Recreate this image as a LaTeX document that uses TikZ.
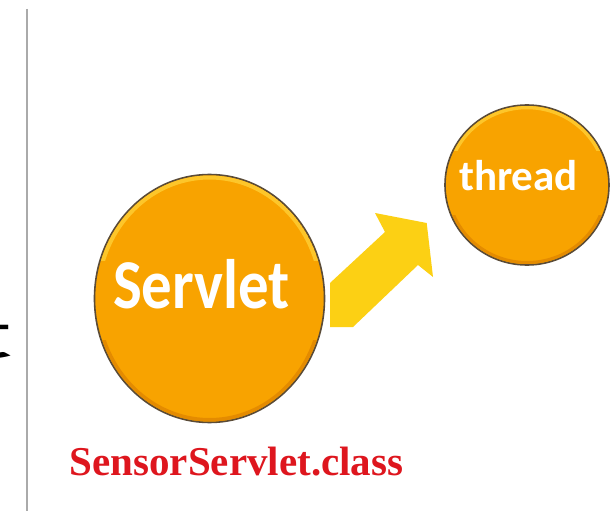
\documentclass[tikz,border=0pt]{standalone}
\usepackage{fontspec}
\setmainfont{Liberation Serif}
\newfontfamily\calib{Carlito}
\usetikzlibrary{shapes.geometric}
\definecolor{orng}{RGB}{248,163,0}
\definecolor{orngrim}{RGB}{90,75,55}
\definecolor{ornghi}{RGB}{255,205,50}
\definecolor{orngdk}{RGB}{220,130,0}
\definecolor{arrowyel}{RGB}{252,208,20}
\definecolor{redtxt}{RGB}{222,22,30}
\definecolor{rulegray}{RGB}{170,170,170}
\tikzset{
  ball/.style={ellipse, inner sep=0pt, fill=orng, draw=orngrim, line width=1.6pt},
  balltext/.style={text=white, inner sep=0pt, anchor=base},
  blockarrow/.style={fill=arrowyel},
}
\begin{document}
\begin{tikzpicture}[x=1pt,y=-1pt]
\useasboundingbox (0,0) rectangle (616,511);
\clip (0,0) rectangle (616,511);
\fill[white] (0,0) rectangle (616,511);
% left rule and cut-off letter
\coordinate (ruletop) at (27,9);
\coordinate (rulebot) at (27,511);
\draw[rulegray, line width=1.4pt] (ruletop) -- (rulebot);
\node[anchor=base west, inner sep=0pt, font=\calib\fontsize{71}{80}\selectfont] (frag) at (-57,358) {\scalebox{3}[1]{t}};
% Servlet ball
\node[ball, minimum width=230pt, minimum height=248pt] (servlet) at (209.5,298.5) {};
\begin{scope}
  \clip (servlet.center) ellipse [x radius=114pt, y radius=123pt];
  \begin{scope}
    \clip (0,160) rectangle (400,260);
    \draw[ornghi, line width=4pt, opacity=0.85] (servlet.center) ellipse [x radius=112pt, y radius=121pt];
  \end{scope}
  \begin{scope}
    \clip (0,340) rectangle (400,430);
    \draw[orngdk, line width=5pt, opacity=0.7] (servlet.center) ellipse [x radius=113pt, y radius=122pt];
  \end{scope}
\end{scope}
\node[balltext, font=\calib\bfseries\fontsize{70}{80}\selectfont] (servletlabel) at (201.5,308) {\scalebox{0.87}[1]{Servlet}};
% thread ball
\node[ball, minimum width=164pt, minimum height=160pt] (thread) at (527,185) {};
\begin{scope}
  \clip (thread.center) ellipse [x radius=81pt, y radius=79pt];
  \begin{scope}
    \clip (430,90) rectangle (616,150);
    \draw[ornghi, line width=3.5pt, opacity=0.85] (thread.center) ellipse [x radius=79.5pt, y radius=77.5pt];
  \end{scope}
  \begin{scope}
    \clip (430,215) rectangle (616,280);
    \draw[orngdk, line width=4pt, opacity=0.7] (thread.center) ellipse [x radius=80pt, y radius=78pt];
  \end{scope}
\end{scope}
\node[balltext, font=\calib\bfseries\fontsize{43}{50}\selectfont] (threadlabel) at (518.5,190) {thread};
% block arrow from Servlet to thread
\fill[blockarrow] (330,283) -- (385,232) -- (375,213) -- (426.7,223) -- (433,277) -- (418,265) -- (353,327) -- (330,327) -- cycle;
% caption
\node[anchor=base, inner sep=0pt, text=redtxt, font=\bfseries\fontsize{41}{48}\selectfont] (cls) at (236.5,475) {SensorServlet.class};
\end{tikzpicture}
\end{document}
